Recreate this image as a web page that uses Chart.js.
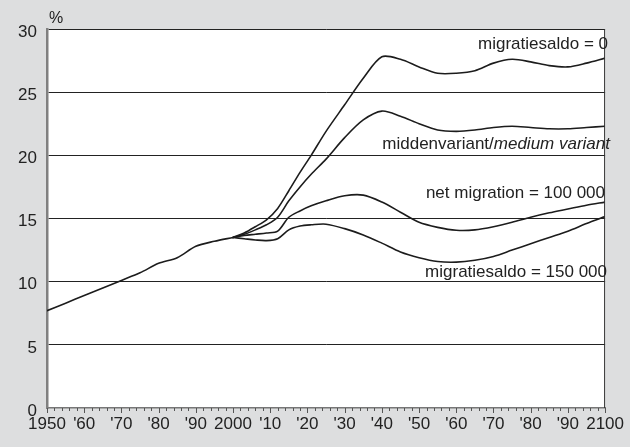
<!DOCTYPE html>
<html>
<head>
<meta charset="utf-8">
<script src="https://cdn.jsdelivr.net/npm/chart.js@4"></script>
<style>
html,body{margin:0;padding:0;background:#dddedf;}
canvas{display:block;}
</style>
</head>
<body>
<canvas id="c" width="630" height="447"></canvas>
<script>
// ---- data ----
const histYears = [1950,1955,1960,1965,1970,1975,1980,1985,1990,1995,2000];
const histValues = [7.7,8.3,8.9,9.5,10.1,10.7,11.45,11.9,12.8,13.2,13.5];

const projYears = [2000,2003,2006,2009,2012,2015,2018,2021,2025,2030,2035,2040,2045,2050,2055,2060,2065,2070,2075,2080,2085,2090,2095,2100];
const migZero   = [13.5,13.85,14.35,14.9,15.8,17.2,18.65,20.0,21.9,24.0,26.1,27.8,27.6,27.0,26.5,26.5,26.7,27.3,27.6,27.4,27.1,27.0,27.3,27.7];
const medium    = [13.5,13.75,14.1,14.5,15.1,16.4,17.5,18.5,19.7,21.4,22.8,23.5,23.1,22.5,22.0,21.9,22.0,22.2,22.3,22.2,22.1,22.1,22.2,22.3];
const net100k   = [13.5,13.65,13.75,13.85,14.0,15.1,15.6,16.0,16.4,16.8,16.85,16.3,15.5,14.7,14.3,14.07,14.1,14.35,14.7,15.1,15.45,15.75,16.05,16.3];
const mig150k   = [13.5,13.4,13.3,13.25,13.4,14.1,14.4,14.5,14.55,14.2,13.7,13.05,12.35,11.9,11.6,11.55,11.7,12.0,12.5,13.0,13.5,14.0,14.6,15.15];

const seriesNames = ['migratiesaldo = 0', 'middenvariant/', 'net migration = 100 000', 'migratiesaldo = 150 000'];
const seriesNameItalic = ['', 'medium variant', '', ''];
const xTickLabels = {1950:'1950',1960:"'60",1970:"'70",1980:"'80",1990:"'90",2000:'2000',2010:"'10",2020:"'20",2030:"'30",2040:"'40",2050:"'50",2060:"'60",2070:"'70",2080:"'80",2090:"'90",2100:'2100'};
const yUnit = '%';

// ---- layout / style (not data) ----
const labelAnchors = [28.4, 20.5, 16.62, 10.35]; // baseline in value units
const labelRight = [608, 610, 605, 607];
const FONT = "'Liberation Sans', Arial, Helvetica, sans-serif";
const LINE = '#1c1c1c';

function pts(xs, ys){ return xs.map((x,i)=>({x:x, y:ys[i]})); }
function ds(data){
  return {data:data, borderColor:LINE, borderWidth:1.6, pointRadius:0, fill:false,
          tension:0.3, borderCapStyle:'round', borderJoinStyle:'round'};
}

const bgPlugin = {
  id:'bg',
  beforeDraw(chart){
    const {ctx, chartArea:a} = chart;
    ctx.save();
    ctx.fillStyle = '#dddedf';
    ctx.fillRect(0,0,chart.width,chart.height);
    ctx.fillStyle = '#ffffff';
    ctx.fillRect(a.left, a.top, a.right-a.left, a.bottom-a.top);
    ctx.restore();
  }
};

const decoPlugin = {
  id:'deco',
  afterDraw(chart){
    const {ctx, chartArea:a, scales} = chart;
    const xs = scales.x, ys = scales.y;
    ctx.save();
    ctx.strokeStyle = '#333';
    ctx.lineWidth = 1;
    ctx.beginPath();
    ctx.moveTo(a.right-0.5, a.top);
    ctx.lineTo(a.right-0.5, a.bottom);
    ctx.stroke();
    ctx.strokeStyle = '#555';
    ctx.lineWidth = 1;
    for(let v=1950; v<=2100; v+=2){
      const px = Math.round(xs.getPixelForValue(v))+0.5;
      const len = (v%10===0)?5:3;
      ctx.beginPath();
      ctx.moveTo(px, a.bottom);
      ctx.lineTo(px, a.bottom+len);
      ctx.stroke();
    }
    ctx.fillStyle = '#222';
    ctx.font = '16px ' + FONT;
    ctx.textBaseline = 'alphabetic';
    ctx.textAlign = 'left';
    ctx.fillText(yUnit, a.left+2, a.top-6);
    ctx.font = '17px ' + FONT;
    ctx.textAlign = 'right';
    for(let i=0;i<seriesNames.length;i++){
      const y = ys.getPixelForValue(labelAnchors[i]);
      let r = labelRight[i];
      if(seriesNameItalic[i]){
        ctx.font = 'italic 17px ' + FONT;
        const w = ctx.measureText(seriesNameItalic[i]).width;
        ctx.fillText(seriesNameItalic[i], r, y);
        r -= w;
        ctx.font = '17px ' + FONT;
      }
      ctx.fillText(seriesNames[i], r, y);
    }
    ctx.restore();
  }
};

new Chart(document.getElementById('c'), {
  type:'line',
  data:{
    datasets:[
      ds(pts(histYears, histValues)),
      ds(pts(projYears, migZero)),
      ds(pts(projYears, medium)),
      ds(pts(projYears, net100k)),
      ds(pts(projYears, mig150k))
    ]
  },
  options:{
    responsive:false,
    animation:false,
    devicePixelRatio:1,
    layout:{padding:{top:29, right:14, left:0, bottom:0}},
    plugins:{legend:{display:false}, tooltip:{enabled:false}, title:{display:false}},
    scales:{
      x:{
        type:'linear', min:1950, max:2100,
        afterFit(s){ s.height = 39; },
        grid:{display:true, drawOnChartArea:false, drawTicks:false},
        border:{display:true, color:'#777', width:1.5},
        ticks:{stepSize:10, autoSkip:false, maxRotation:0, padding:6, color:'#222',
               font:{family:FONT, size:17},
               callback:(v)=> xTickLabels[v] !== undefined ? xTickLabels[v] : ''}
      },
      y:{
        min:0, max:30,
        afterFit(s){ s.width = 47; },
        grid:{drawTicks:false, color:(c)=> c.tick && c.tick.value===0 ? 'rgba(0,0,0,0)' : '#222', lineWidth:1},
        border:{display:true, color:'#808080', width:2.5},
        ticks:{stepSize:5, padding:10, labelOffset:3, color:'#222', font:{family:FONT, size:17}}
      }
    }
  },
  plugins:[bgPlugin, decoPlugin]
});
</script>
</body>
</html>
